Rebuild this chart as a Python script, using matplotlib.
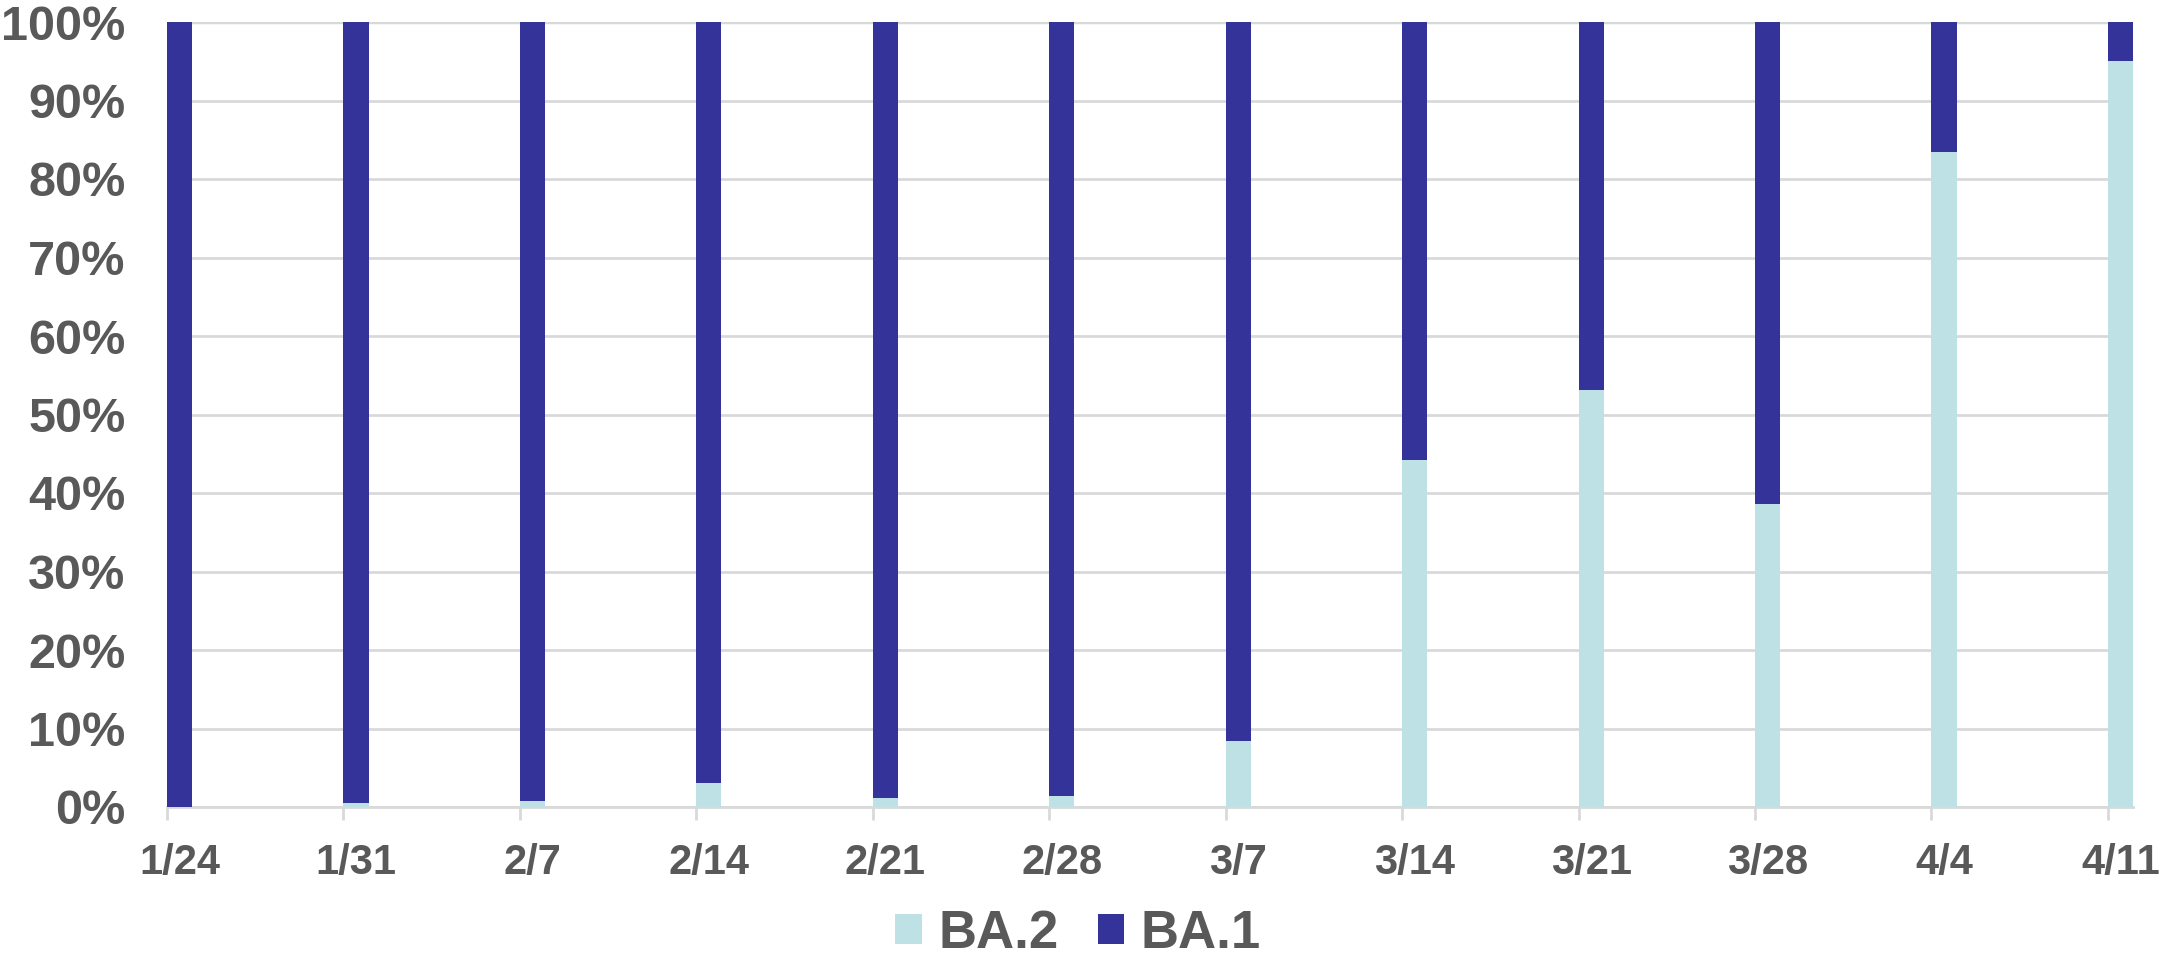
import matplotlib
matplotlib.use("Agg")
import matplotlib.pyplot as plt
import numpy as np

dates = ["1/24", "1/31", "2/7", "2/14", "2/21", "2/28", "3/7", "3/14", "3/21", "3/28", "4/4", "4/11"]
ba2 = [0.0, 0.5, 0.8, 3.0, 1.2, 1.4, 8.4, 44.2, 53.1, 38.6, 83.5, 95.0]
ba1 = [100 - v for v in ba2]

plt.rcParams['font.family'] = ['Liberation Sans', 'DejaVu Sans']
fig = plt.figure(figsize=(21.6, 9.58), dpi=100)
ax = fig.add_axes([167/2160, 1 - 807/958, (2133-167)/2160, (807-22)/958])

x = np.arange(len(dates))
w = 0.142
c2 = "#bde1e4"
c1 = "#333399"
ax.bar(x, ba2, width=w, align='edge', color=c2, label="BA.2", zorder=3)
ax.bar(x, ba1, width=w, align='edge', bottom=ba2, color=c1, label="BA.1", zorder=3)

ax.set_xlim(0, len(dates) - 1 + w)
ax.set_ylim(0, 100)
ax.set_yticks(np.arange(0, 101, 10))
ax.set_yticklabels([f"{v}%" for v in range(0, 101, 10)])
ax.yaxis.grid(True, color="#d9d9d9", linewidth=2, zorder=0)
ax.axhline(100, color="#c8dcdf", linewidth=2.5, zorder=1)

ax.set_xticks(x + w/2)
ax.set_xticklabels(dates)
ax.set_xticks(x, minor=True)
ax.tick_params(axis='x', which='major', length=0, pad=26, labelsize=30, labelcolor="#595959")
ax.tick_params(axis='x', which='minor', length=9, width=2, color="#d9d9d9")
ax.tick_params(axis='y', length=0, pad=30, labelsize=35, labelcolor="#595959")
for lab in ax.get_xticklabels() + ax.get_yticklabels():
    lab.set_fontweight('bold')

for s in ["top", "right", "left"]:
    ax.spines[s].set_visible(False)
ax.spines["bottom"].set_color("#d9d9d9")
ax.spines["bottom"].set_linewidth(2)

leg = fig.legend(loc="center", bbox_to_anchor=(1078/2160, 1 - 934/958), ncol=2, frameon=False,
                 prop={'size': 38, 'weight': 'bold'}, handlelength=0.51, handleheight=0.51,
                 handletextpad=0.3, columnspacing=0.74)
for t in leg.get_texts():
    t.set_color("#595959")

fig.savefig("out.png", dpi=100)
